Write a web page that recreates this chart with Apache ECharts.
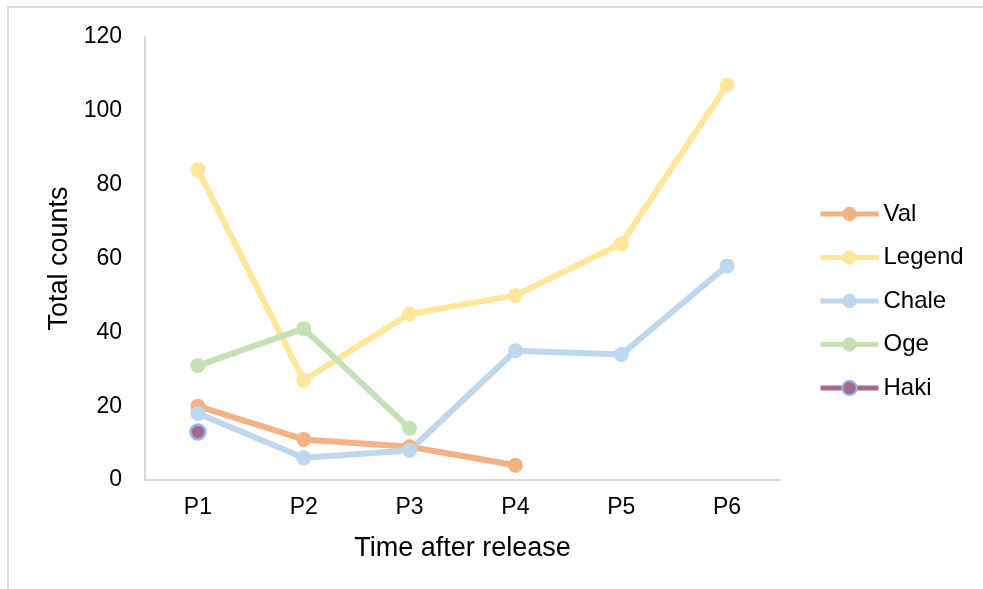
<!DOCTYPE html>
<html><head><meta charset="utf-8">
<script src="https://cdn.jsdelivr.net/npm/echarts@6/dist/echarts.min.js"></script>
<style>html,body{margin:0;padding:0;background:#fff}#c{width:983px;height:589px}</style>
</head><body><div id="c"></div>
<script>
const categories = ['P1','P2','P3','P4','P5','P6'];
const val = [20, 11, 9, 4, null, null];
const legendS = [84, 27, 45, 50, 64, 107];
const chale = [18, 6, 8, 35, 34, 58];
const oge = [31, 41, 14, null, null, null];
const haki = [13, null, null, null, null, null];
const yTicks = [0, 20, 40, 60, 80, 100, 120];

const font = 'Liberation Sans, Arial, sans-serif';
function line(name, data, color, extra) {
  return Object.assign({
    name, type: 'line', data, symbol: 'circle', symbolSize: 15,
    lineStyle: { width: 6, color }, itemStyle: { color },
    connectNulls: false
  }, extra || {});
}
const chart = echarts.init(document.getElementById('c'), null, { renderer: 'canvas' });
chart.setOption({
  animation: false,
  backgroundColor: '#fff',
  graphic: [{ type: 'rect', shape: { x: 8, y: 7, width: 1100, height: 700 }, style: { fill: 'none', stroke: '#d9d9d9', lineWidth: 2 } }],
  grid: { left: 145, right: 203, top: 37, bottom: 109 },
  xAxis: {
    type: 'category', data: categories, boundaryGap: true,
    axisLine: { lineStyle: { color: '#d9d9d9', width: 2 } },
    axisTick: { show: false },
    axisLabel: { color: '#000', fontSize: 23, fontFamily: font, margin: 16 },
    name: 'Time after release', nameLocation: 'middle', nameGap: 55,
    nameTextStyle: { color: '#000', fontSize: 27, fontFamily: font }
  },
  yAxis: {
    type: 'value', min: yTicks[0], max: yTicks[yTicks.length - 1], interval: 20,
    axisLine: { show: true, lineStyle: { color: '#d9d9d9', width: 2 } },
    axisTick: { show: false }, splitLine: { show: false },
    axisLabel: { color: '#000', fontSize: 23, fontFamily: font, margin: 23 },
    name: 'Total counts', nameLocation: 'middle', nameGap: 72,
    nameTextStyle: { color: '#000', fontSize: 27, fontFamily: font }
  },
  legend: {
    orient: 'vertical', left: 818, top: 202, itemGap: 19.5, padding: 0,
    itemWidth: 58, itemHeight: 18,
    textStyle: { color: '#000', fontSize: 24, fontFamily: font },
    lineStyle: { width: 5 },
    data: ['Val', 'Legend', 'Chale', 'Oge', 'Haki']
  },
  series: [
    line('Val', val, '#F4B183'),
    line('Legend', legendS, '#FFE699'),
    line('Chale', chale, '#BDD7EE'),
    line('Oge', oge, '#C5E0B4'),
    line('Haki', haki, '#A9698F', { itemStyle: { color: '#A9698F', borderColor: '#8DBDF2', borderWidth: 2.5 } })
  ]
});
</script></body></html>
